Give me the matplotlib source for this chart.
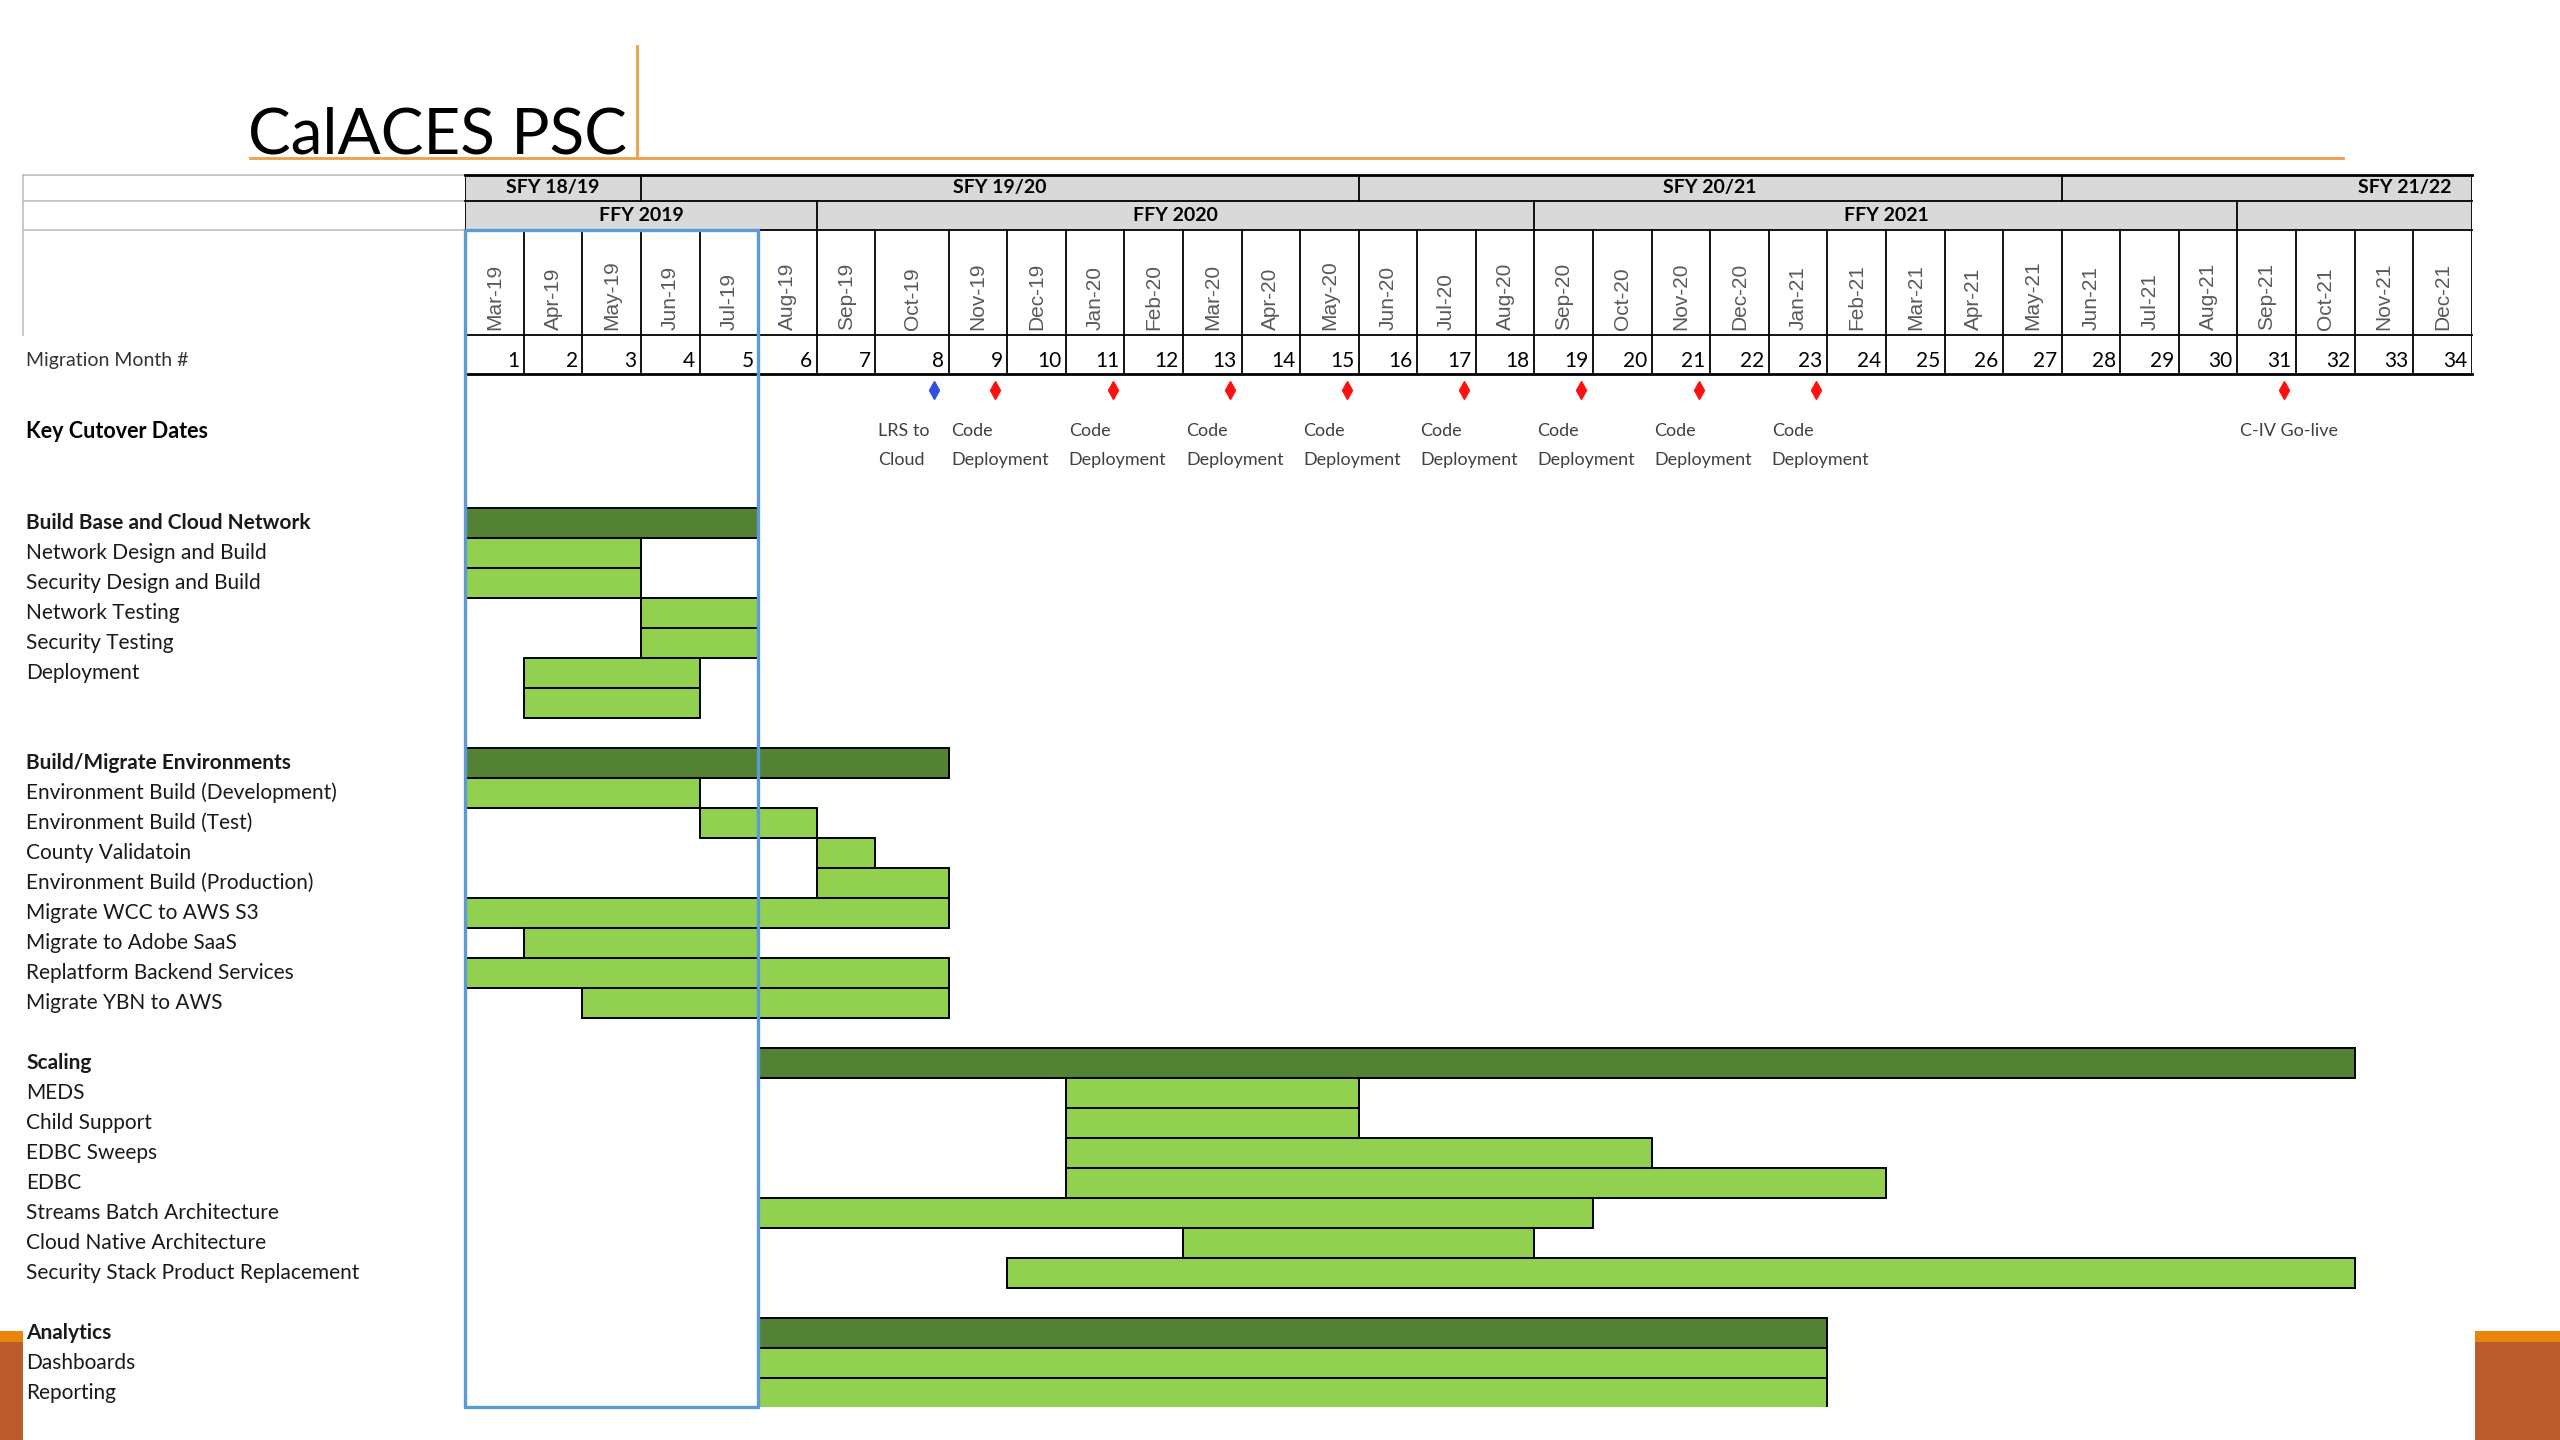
import matplotlib
matplotlib.use('Agg')
import matplotlib.pyplot as plt
from matplotlib.patches import Rectangle
from matplotlib.lines import Line2D
from matplotlib.transforms import blended_transform_factory
import numpy as np

# ---------------- data ----------------
months = ['Mar-19', 'Apr-19', 'May-19', 'Jun-19', 'Jul-19', 'Aug-19', 'Sep-19', 'Oct-19',
          'Nov-19', 'Dec-19', 'Jan-20', 'Feb-20', 'Mar-20', 'Apr-20', 'May-20', 'Jun-20',
          'Jul-20', 'Aug-20', 'Sep-20', 'Oct-20', 'Nov-20', 'Dec-20', 'Jan-21', 'Feb-21',
          'Mar-21', 'Apr-21', 'May-21', 'Jun-21', 'Jul-21', 'Aug-21', 'Sep-21', 'Oct-21',
          'Nov-21', 'Dec-21']
month_nums = list(range(1, len(months) + 1))

sfy_labels = ['SFY 18/19', 'SFY 19/20', 'SFY 20/21', 'SFY 21/22']
sfy_first = [1, 4, 16, 28]
ffy_labels = ['FFY 2019', 'FFY 2020', 'FFY 2021', '']
ffy_first = [1, 7, 19, 31]

milestone_month = [8, 9, 11, 13, 15, 17, 19, 21, 23, 31]
milestone_text = ['LRS to\nCloud'] + ['Code\nDeployment'] * 8 + ['C-IV Go-live']
milestone_blue = [True] + [False] * 9

# one entry per row ('' = no label, None = no bar)
task_labels = ['Build Base and Cloud Network', 'Network Design and Build', 'Security Design and Build',
               'Network Testing', 'Security Testing', 'Deployment', '', '',
               'Build/Migrate Environments', 'Environment Build (Development)', 'Environment Build (Test)',
               'County Validatoin', 'Environment Build (Production)', 'Migrate WCC to AWS S3',
               'Migrate to Adobe SaaS', 'Replatform Backend Services', 'Migrate YBN to AWS', '',
               'Scaling', 'MEDS', 'Child Support', 'EDBC Sweeps', 'EDBC', 'Streams Batch Architecture',
               'Cloud Native Architecture', 'Security Stack Product Replacement', '',
               'Analytics', 'Dashboards', 'Reporting']
task_start = [1, 1, 1, 4, 4, 2, 2, None,
              1, 1, 5, 7, 7, 1, 2, 1, 3, None,
              6, 11, 11, 11, 11, 6, 13, 10, None,
              6, 6, 6]
task_end = [5, 3, 3, 5, 5, 4, 4, None,
            8, 4, 6, 7, 8, 8, 5, 8, 8, None,
            32, 15, 15, 20, 24, 19, 18, 32, None,
            23, 23, 23]
task_group = [True, False, False, False, False, False, False, False,
              True, False, False, False, False, False, False, False, False, False,
              True, False, False, False, False, False, False, False, False,
              True, False, False]

# ---------------- style ----------------
plt.rcParams['font.family'] = ['Lato', 'DejaVu Sans']

DARK = '#548235'
LIGHT = '#92D050'
HDR_FILL = '#D9D9D9'
BLUE = '#5B9BD5'
ORANGE = '#E8A04A'

W, H = 1568, 882          # reference layout grid


def fx(px):
    return px / W


def fy(py):
    return 1 - py / H


def ry(py):               # reference pixel row -> row units
    return (py - 311) / 18.37


# column edges (the Oct-19 column is a bit wider in the sheet)
col_w = np.ones(len(months))
col_w[7] = 1.25
edges = np.concatenate([[0], np.cumsum(col_w)])

fig = plt.figure(figsize=(25.6, 14.4), dpi=100)
ax = fig.add_axes([fx(285), fy(862), fx(1514) - fx(285), fy(107) - fy(862)])
ax.set_xlim(0, edges[-1])
ax.set_ylim(ry(862), ry(107))
ax.axis('off')

lab = blended_transform_factory(fig.transFigure, ax.transData)

# ---- title ----
fig.text(fx(152), fy(94), 'CalACES PSC', fontsize=46, ha='left', va='baseline')
fig.add_artist(Line2D([fx(153), fx(1435)], [fy(97), fy(97)], color=ORANGE, lw=2))
fig.add_artist(Line2D([fx(390), fx(390)], [fy(28), fy(97)], color=ORANGE, lw=2))

# ---- header rows ----
y_sfy_top, y_ffy_top, y_mon_top, y_num_top, y_num_bot = ry(107), ry(123), ry(141), ry(205), ry(229)
ax.add_patch(Rectangle((0, y_sfy_top), edges[-1], y_mon_top - y_sfy_top,
                       facecolor=HDR_FILL, edgecolor='none', zorder=1))
for y, lw in [(y_sfy_top, 2.0), (y_ffy_top, 1.3), (y_mon_top, 1.3), (y_num_top, 1.3), (y_num_bot, 2.0)]:
    ax.plot([0, edges[-1]], [y, y], color='black', lw=lw, zorder=3, clip_on=False)

for i, (lbl, first) in enumerate(zip(sfy_labels, sfy_first)):
    x0 = edges[first - 1]
    x1 = edges[sfy_first[i + 1] - 1] if i + 1 < len(sfy_first) else edges[-1]
    ax.plot([x0, x0], [y_sfy_top, y_ffy_top], color='black', lw=1.3, zorder=3)
    if i + 1 < len(sfy_first):
        ax.text((x0 + x1) / 2, (y_sfy_top + y_ffy_top) / 2, lbl, ha='center', va='center',
                fontsize=14, fontweight='bold')
    else:
        ax.text(x1 - 0.35, (y_sfy_top + y_ffy_top) / 2, lbl, ha='right', va='center',
                fontsize=14, fontweight='bold')

for i, (lbl, first) in enumerate(zip(ffy_labels, ffy_first)):
    x0 = edges[first - 1]
    x1 = edges[ffy_first[i + 1] - 1] if i + 1 < len(ffy_first) else edges[-1]
    ax.plot([x0, x0], [y_ffy_top, y_mon_top], color='black', lw=1.3, zorder=3)
    ax.text((x0 + x1) / 2, (y_ffy_top + y_mon_top) / 2, lbl, ha='center', va='center',
            fontsize=14, fontweight='bold')
ax.plot([edges[-1], edges[-1]], [y_sfy_top, y_num_bot], color='black', lw=1.3, zorder=3)

for i, (m, n) in enumerate(zip(months, month_nums)):
    x0, x1 = edges[i], edges[i + 1]
    ax.plot([x0, x0], [y_mon_top, y_num_bot], color='black', lw=1.3, zorder=3)
    ax.text((x0 + x1) / 2, y_num_top - 0.15, m, rotation=90, ha='center', va='bottom',
            fontsize=15, color='#595959', family=['Liberation Sans', 'DejaVu Sans'])
    ax.text(x1 - 0.08, ry(221), str(n), ha='right', va='center', fontsize=15)

# left header cells
for py in [107, 123, 141]:
    ax.plot([fx(14), fx(285)], [ry(py)] * 2, color='#BFBFBF', lw=1.2, transform=lab, clip_on=False)
ax.plot([fx(14), fx(14)], [ry(107), ry(205)], color='#BFBFBF', lw=1.2, transform=lab, clip_on=False)
ax.text(fx(16), ry(221), 'Migration Month #', transform=lab, ha='left', va='center',
        fontsize=14, color='#333333')

# ---- key cutover dates ----
ax.text(fx(16), ry(264), 'Key Cutover Dates', transform=lab, ha='left', va='center',
        fontsize=15.5, fontweight='bold')
for m, txt, blue in zip(milestone_month, milestone_text, milestone_blue):
    x0, x1 = edges[m - 1], edges[m]
    ax.plot(x0 + 0.8 * (x1 - x0), ry(239), marker='d', markersize=9,
            color='#3050E0' if blue else '#FF1010', zorder=4)
    for k, line in enumerate(txt.split('\n')):
        ax.text(x0 + 0.05, ry(264) + k * (ry(282) - ry(264)), line, ha='left', va='center',
                fontsize=13, color='#404040')

# ---- task bars ----
for r, (lbl, s, e, grp) in enumerate(zip(task_labels, task_start, task_end, task_group)):
    if lbl:
        ax.text(fx(16), r + 0.5, lbl, transform=lab, ha='left', va='center', fontsize=15,
                fontweight='bold' if grp else 'normal', color='#1a1a1a')
    if s is not None:
        ax.barh(r + 0.5, edges[e] - edges[s - 1], left=edges[s - 1], height=1.0,
                color=DARK if grp else LIGHT, edgecolor='black', linewidth=1.4, zorder=2)

# blue highlight box over months 1-5
ax.add_patch(Rectangle((0, y_mon_top), edges[5], ry(862) - y_mon_top, fill=False,
                       edgecolor=BLUE, lw=2.4, zorder=5, clip_on=False))

# ---- slide corner decorations ----
for x0, x1 in [(0, 14), (1516, 1568)]:
    fig.add_artist(Rectangle((fx(x0), fy(882)), fx(x1) - fx(x0), fy(822) - fy(882),
                             facecolor='#BB5A2B', edgecolor='none'))
    fig.add_artist(Rectangle((fx(x0), fy(822)), fx(x1) - fx(x0), fy(815) - fy(822),
                             facecolor='#E8850F', edgecolor='none'))

fig.savefig('out.png', dpi=100)
